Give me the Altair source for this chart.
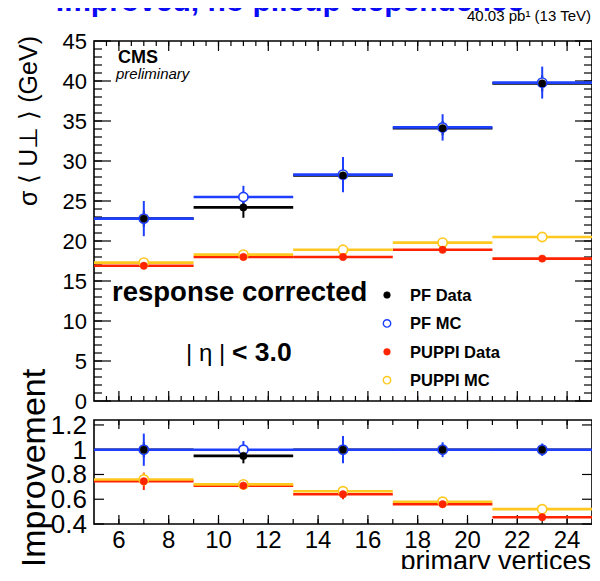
import altair as alt
import pandas as pd

# ---------------- data ----------------
bin_lo = [5, 9, 13, 17, 21]
bin_hi = [9, 13, 17, 21, 25]
bin_c = [7, 11, 15, 19, 23]

pf_data = [22.8, 24.2, 28.2, 34.1, 39.7]
pf_data_err = [1.0, 1.3, 1.0, 0.9, 1.0]
pf_mc = [22.8, 25.5, 28.3, 34.2, 39.8]
pf_mc_err = [2.2, 1.4, 2.2, 1.65, 2.0]
puppi_data = [16.9, 18.0, 18.0, 18.9, 17.8]
puppi_data_err = [0.3, 0.3, 0.3, 0.3, 0.3]
puppi_mc = [17.3, 18.3, 18.9, 19.8, 20.5]
puppi_mc_err = [0.2, 0.2, 0.2, 0.2, 0.2]

r_pf_data = [1.0, 0.95, 1.0, 1.0, 1.0]
r_pf_data_err = [0.06, 0.06, 0.06, 0.04, 0.04]
r_pf_mc = [1.0, 1.0, 1.0, 1.0, 1.0]
r_pf_mc_err = [0.13, 0.07, 0.11, 0.06, 0.05]
r_puppi_data = [0.745, 0.71, 0.64, 0.56, 0.455]
r_puppi_data_err = [0.07, 0.03, 0.04, 0.02, 0.015]
r_puppi_mc = [0.76, 0.72, 0.665, 0.58, 0.52]
r_puppi_mc_err = [0.05, 0.02, 0.03, 0.02, 0.01]

series_names = ["PF Data", "PF MC", "PUPPI Data", "PUPPI MC"]
series_colors = ["#000000", "#1f3fff", "#ff2400", "#ffc81e"]
series_filled = [True, False, True, False]

top_y_ticks = [0, 5, 10, 15, 20, 25, 30, 35, 40, 45]
top_y_labels = ["0", "5", "10", "15", "20", "25", "30", "35", "40", "45"]
bot_y_ticks = [0.4, 0.6, 0.8, 1.0, 1.2]
bot_y_labels = ["0.4", "0.6", "0.8", "1", "1.2"]
x_ticks = [6, 8, 10, 12, 14, 16, 18, 20, 22, 24]
x_labels = ["6", "8", "10", "12", "14", "16", "18", "20", "22", "24"]

title_text = "Improved, no pileup dependence"
lumi_text = "40.03 pb¹ (13 TeV)"
ytitle_top = "σ ⟨ U⊥ ⟩ (GeV)"
ytitle_bot = "Improvement"
xtitle = "primary vertices"

# ---------------- layout ----------------
W, H = 498, 483
TOP_H = 360
BOT_TOP, BOT_BOT = 379, 483
FONT = "Liberation Sans"

xs = alt.Scale(domain=[5, 25], nice=False, zero=False)
ys_top = alt.Scale(domain=[0, 45], range=[TOP_H, 0], nice=False, zero=False)
ys_bot = alt.Scale(domain=[0.4, 1.24], range=[BOT_BOT, BOT_TOP], nice=False, zero=False)


def make_df(v, e):
    return pd.DataFrame({
        "lo": bin_lo, "hi": bin_hi, "c": bin_c, "v": v,
        "vlo": [a - b for a, b in zip(v, e)],
        "vhi": [a + b for a, b in zip(v, e)],
    })


def line_layers(df, ys, color):
    h = alt.Chart(df).mark_rule(color=color, strokeWidth=2.6).encode(
        x=alt.X("lo:Q", scale=xs, axis=None), x2="hi:Q",
        y=alt.Y("v:Q", scale=ys, axis=None))
    v = alt.Chart(df).mark_rule(color=color, strokeWidth=2).encode(
        x=alt.X("c:Q", scale=xs, axis=None),
        y=alt.Y("vlo:Q", scale=ys, axis=None), y2="vhi:Q")
    return [h, v]


def point_layer(df, ys, color, filled):
    if filled:
        m = alt.Chart(df).mark_point(shape="circle", filled=True, fill=color, stroke=color,
                                     strokeWidth=0.5, size=55, opacity=1)
    else:
        m = alt.Chart(df).mark_point(shape="circle", filled=False, stroke=color, fill="white",
                                     fillOpacity=1, strokeWidth=1.7, size=85, opacity=1)
    return m.encode(x=alt.X("c:Q", scale=xs, axis=None), y=alt.Y("v:Q", scale=ys, axis=None))


def xtick_layer(vals, y0, y1):
    return alt.Chart(pd.DataFrame({"t": vals})).mark_rule(color="black", strokeWidth=1.2).encode(
        x=alt.X("t:Q", scale=xs, axis=None), y=alt.value(y0), y2=alt.value(y1))


def ytick_layer(vals, ys, x0, x1):
    return alt.Chart(pd.DataFrame({"t": vals})).mark_rule(color="black", strokeWidth=1.2).encode(
        y=alt.Y("t:Q", scale=ys, axis=None), x=alt.value(x0), x2=alt.value(x1))


def frame_layer(y0, y1, ys):
    df = pd.DataFrame({"x0": [5], "x1": [25], "y0": [y0], "y1": [y1]})
    return alt.Chart(df).mark_rect(fillOpacity=0, stroke="black", strokeWidth=1.6).encode(
        x=alt.X("x0:Q", scale=xs, axis=None), x2="x1:Q",
        y=alt.Y("y0:Q", scale=ys, axis=None), y2="y1:Q")


def txt(s, x, y, size, weight="normal", style="normal", align="left",
        baseline="alphabetic", angle=None, color="black"):
    kw = dict(text=s, font=FONT, fontSize=size, fontWeight=weight, fontStyle=style,
              align=align, baseline=baseline, color=color)
    if angle is not None:
        kw["angle"] = angle
    return alt.Chart(alt.Data(values=[{}])).mark_text(**kw).encode(
        x=alt.value(x), y=alt.value(y))


def label_layer(ticks, labels, ys, size, axis="y", pos=-7):
    df = pd.DataFrame({"t": ticks, "lab": labels})
    if axis == "y":
        return alt.Chart(df).mark_text(font=FONT, fontSize=size, align="right",
                                       baseline="middle", color="black", dy=1).encode(
            x=alt.value(pos), y=alt.Y("t:Q", scale=ys, axis=None), text="lab:N")
    return alt.Chart(df).mark_text(font=FONT, fontSize=size, align="center",
                                   baseline="alphabetic", color="black").encode(
        x=alt.X("t:Q", scale=xs, axis=None), y=alt.value(pos), text="lab:N")


top_dfs = [make_df(pf_data, pf_data_err), make_df(pf_mc, pf_mc_err),
           make_df(puppi_data, puppi_data_err), make_df(puppi_mc, puppi_mc_err)]
bot_dfs = [make_df(r_pf_data, r_pf_data_err), make_df(r_pf_mc, r_pf_mc_err),
           make_df(r_puppi_data, r_puppi_data_err), make_df(r_puppi_mc, r_puppi_mc_err)]

top_minor_x = [5 + 0.5 * i for i in range(1, 40)]
top_minor_y = list(range(1, 45))
bot_minor_x = list(range(6, 25))


def panel(dfs, ys, y_top, y_bot, yd0, yd1, xmaj_len, xmin_len, minor_x, ymaj, ymaj_len, minor_y, ymin_len):
    layers = [frame_layer(yd0, yd1, ys)]
    layers.append(xtick_layer(x_ticks, y_bot, y_bot - xmaj_len))
    layers.append(xtick_layer(x_ticks, y_top, y_top + xmaj_len))
    layers.append(xtick_layer(minor_x, y_bot, y_bot - xmin_len))
    layers.append(xtick_layer(minor_x, y_top, y_top + xmin_len))
    layers.append(ytick_layer(ymaj, ys, 0, ymaj_len))
    layers.append(ytick_layer(ymaj, ys, W, W - ymaj_len))
    if minor_y:
        layers.append(ytick_layer(minor_y, ys, 0, ymin_len))
        layers.append(ytick_layer(minor_y, ys, W, W - ymin_len))
    for df, col in zip(dfs, series_colors):
        layers += line_layers(df, ys, col)
    for df, col, f in zip(dfs, series_colors, series_filled):
        if not f:
            layers.append(point_layer(df, ys, col, f))
    for df, col, f in zip(dfs, series_colors, series_filled):
        if f:
            layers.append(point_layer(df, ys, col, f))
    return layers


# ---------------- top panel ----------------
top_layers = panel(top_dfs, ys_top, 0, TOP_H, 0, 45, 10, 5, top_minor_x,
                   top_y_ticks, 17, top_minor_y, 8)
top_layers.append(label_layer(top_y_ticks, top_y_labels, ys_top, 22, "y", -7))

top_layers += [
    txt("CMS", 24, 22, 18, weight="bold"),
    txt("preliminary", 22, 38, 15, style="italic"),
    txt("response corrected", 18, 260, 27.5, weight="bold"),
    txt("| η |", 92, 320, 24),
    txt("< 3.0", 138, 320, 26.5, weight="bold"),
    txt(title_text, 196, -30, 30, weight="bold", align="center", color="#0a0af5"),
    txt(lumi_text, 497, -20, 15, align="right"),
    txt(ytitle_top, -57, 80, 25, align="center", angle=270),
]

leg_x, leg_y0, leg_dy = 293, 254, 28.4
for i, (name, col, f) in enumerate(zip(series_names, series_colors, series_filled)):
    ly = leg_y0 + i * leg_dy
    if f:
        mk = alt.Chart(alt.Data(values=[{}])).mark_point(
            shape="circle", filled=True, fill=col, stroke=col, strokeWidth=0.5, size=45, opacity=1)
    else:
        mk = alt.Chart(alt.Data(values=[{}])).mark_point(
            shape="circle", filled=False, stroke=col, fill="white", fillOpacity=1,
            strokeWidth=1.4, size=55, opacity=1)
    top_layers.append(mk.encode(x=alt.value(leg_x), y=alt.value(ly)))
    top_layers.append(txt(name, 316, ly + 1, 16.5, weight="bold", baseline="middle"))

# ---------------- bottom panel ----------------
bot_layers = panel(bot_dfs, ys_bot, BOT_TOP, BOT_BOT, 0.4, 1.24, 9, 5, bot_minor_x,
                   bot_y_ticks, 10, [], 0)
bot_layers.append(label_layer(bot_y_ticks, bot_y_labels, ys_bot, 26, "y", -7))
bot_layers.append(label_layer(x_ticks, x_labels, ys_bot, 24, "x", 507))
bot_layers += [
    txt(ytitle_bot, -49, 427, 34, align="center", angle=270),
    txt(xtitle, 497, 529, 27, align="right"),
]

top = alt.layer(*top_layers)
bottom = alt.layer(*bot_layers)

chart = alt.layer(top, bottom).resolve_scale(y="independent").properties(
    width=W, height=H,
    autosize=alt.AutoSizeParams(type="none"),
    padding={"left": 86, "top": 33, "right": 0, "bottom": 45},
).configure_view(strokeWidth=0)

chart.save("out.html", embed_options={"renderer": "svg", "actions": False})
